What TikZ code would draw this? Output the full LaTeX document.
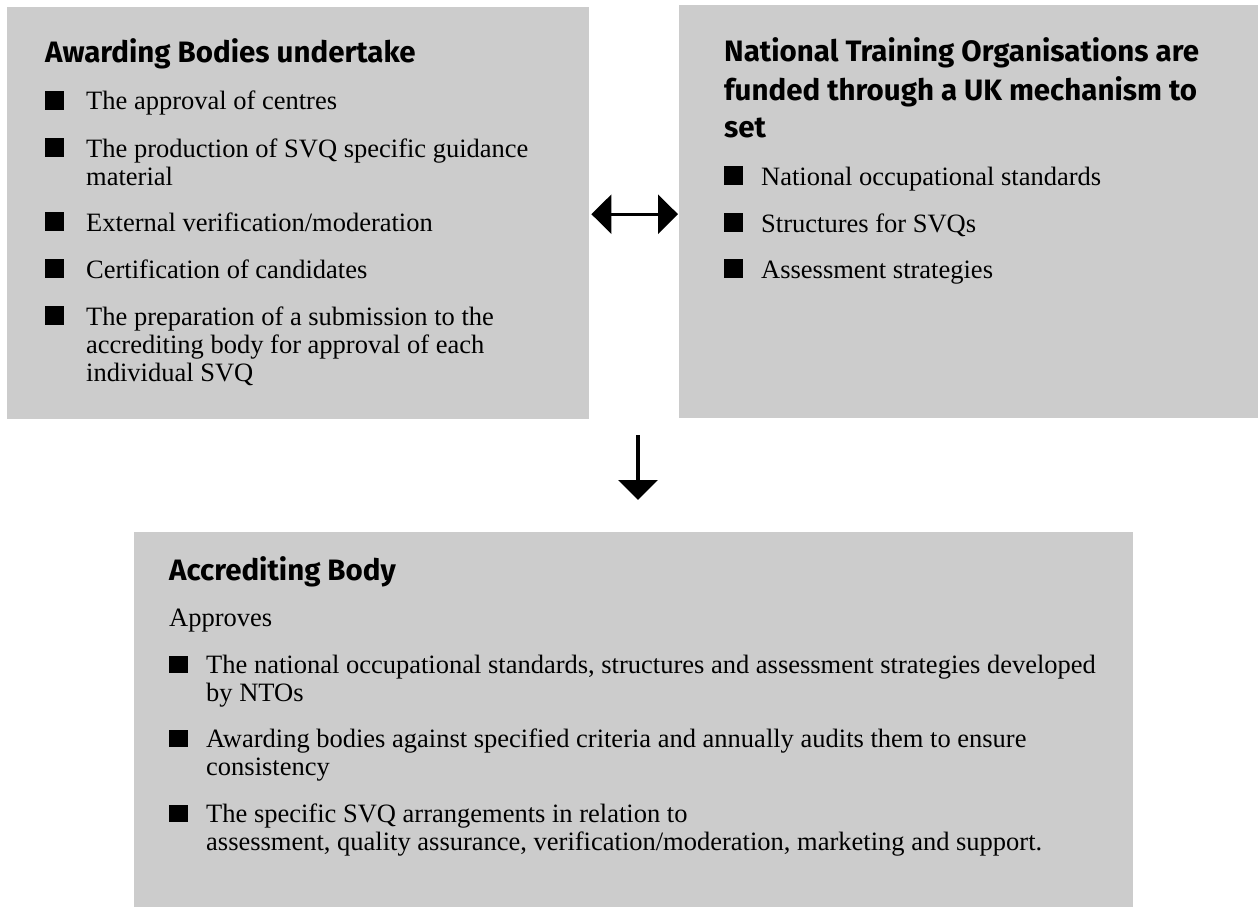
\documentclass[tikz,border=0pt]{standalone}
\usepackage{fontspec}
\setmainfont{Liberation Serif}
\newfontfamily\hfont{Fira Sans}
\usetikzlibrary{arrows.meta}
\definecolor{boxgray}{RGB}{204,204,204}
\newcommand{\bulsq}[2]{\fill (#1,#2) rectangle ++(19,-19);}
\newcommand{\bulsqb}[2]{\fill (#1,#2) rectangle ++(19,-17.5);}
\begin{document}
\begin{tikzpicture}[x=1pt,y=-1pt,
  panel/.style={fill=boxgray, draw=none, inner sep=0pt, anchor=north west},
  head/.style={inner sep=0pt, anchor=base west, font=\hfont\bfseries\fontsize{29.5}{38}\selectfont},
  body/.style={inner sep=0pt, anchor=base west, font=\fontsize{26.5}{28}\selectfont},
  arr/.style={line width=3.5pt, -{Triangle[length=20pt,width=39pt]}},
  darr/.style={line width=3pt, {Triangle[length=20pt,width=39pt]}-{Triangle[length=20pt,width=39pt]}}]
\useasboundingbox (0,0) rectangle (1258,907);
% panels
\node[panel, minimum width=582pt, minimum height=412pt] (ab) at (7,7) {};
\node[panel, minimum width=579pt, minimum height=413pt] (nto) at (679,5) {};
\node[panel, minimum width=999pt, minimum height=375pt] (acc) at (134,532) {};
% left panel
\node[head] (abh) at (45,63) {Awarding Bodies undertake};
\bulsq{45}{110}
\node[body] (ab1) at (86,110) {The approval of centres};
\bulsq{45}{157}
\node[body] (ab2a) at (86,157) {The production of SVQ specific guidance};
\node[body] (ab2b) at (86,185) {material};
\bulsq{45}{231}
\node[body] (ab3) at (86,231) {External verification/moderation};
\bulsq{45}{278}
\node[body] (ab4) at (86,278) {Certification of candidates};
\bulsq{45}{325}
\node[body] (ab5a) at (86,325) {The preparation of a submission to the};
\node[body] (ab5b) at (86,353) {accrediting body for approval of each};
\node[body] (ab5c) at (86,381) {individual SVQ};
% right panel
\node[head] (ntoha) at (724,62) {National Training Organisations are};
\node[head] (ntohb) at (724,100) {funded through a UK mechanism to};
\node[head] (ntohc) at (724,137) {set};
\bulsq{724}{185}
\node[body] (nto1) at (761,185) {National occupational standards};
\bulsq{724}{232}
\node[body] (nto2) at (761,232) {Structures for SVQs};
\bulsq{724}{278}
\node[body] (nto3) at (761,278) {Assessment strategies};
% bottom panel
\node[head] (acch) at (169,580) {Accrediting Body};
\node[body] (accap) at (169,626) {Approves};
\bulsqb{169}{673}
\node[body] (acc1a) at (206,673) {The national occupational standards, structures and assessment strategies developed};
\node[body] (acc1b) at (206,701) {by NTOs};
\bulsqb{169}{747}
\node[body] (acc2a) at (206,747) {Awarding bodies against specified criteria and annually audits them to ensure};
\node[body] (acc2b) at (206,775) {consistency};
\bulsqb{169}{822}
\node[body] (acc3a) at (206,822) {The specific SVQ arrangements in relation to};
\node[body] (acc3b) at (206,850) {assessment, quality assurance, verification/moderation, marketing and support.};
% connectors
\draw[darr, shorten <=2pt, shorten >=1pt] ([yshift=-1pt]ab.east) -- ([yshift=-1pt]ab.east -| nto.west);
\coordinate (dstart) at (638,435);
\draw[arr, shorten >=32pt] (dstart) -- (dstart |- acc.north);
\end{tikzpicture}
\end{document}
